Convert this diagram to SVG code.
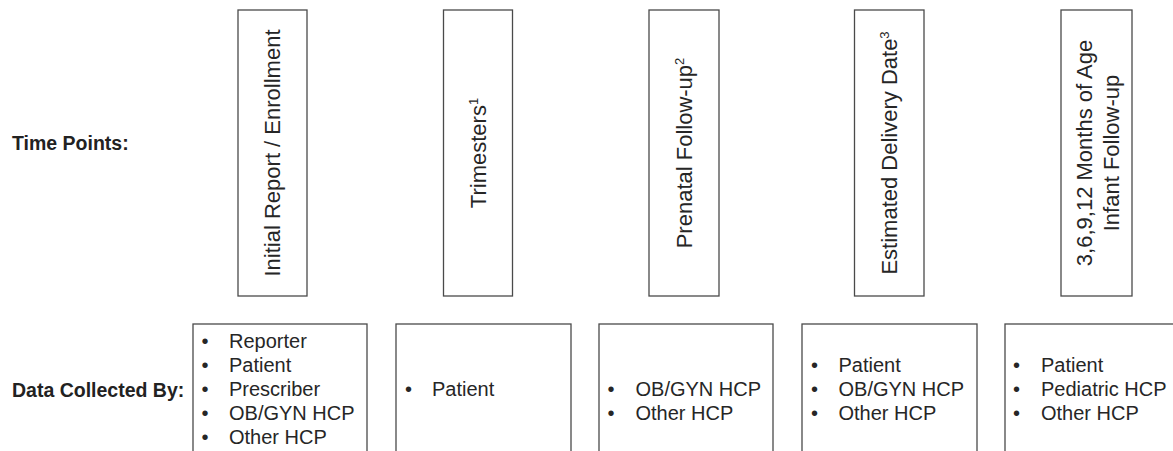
<svg xmlns="http://www.w3.org/2000/svg" width="1173" height="451" viewBox="0 0 1173 451">
<style>
.box{fill:#fff;stroke:#4a4a4a;stroke-width:1.3}
.lbl{font-family:"Liberation Sans",Arial,sans-serif;font-weight:bold;font-size:19.5px;fill:#222}
.vt{font-family:"Liberation Sans",Arial,sans-serif;font-size:22px;fill:#262626;text-anchor:middle}
.li{font-family:"Liberation Sans",Arial,sans-serif;font-size:20px;fill:#262626}
.sup{font-size:13px}
</style>
<rect width="1173" height="451" fill="#fff"/>
<text class="lbl" x="12" y="150">Time Points:</text>
<text class="lbl" x="12" y="397">Data Collected By:</text>
<g id="tp1"><rect class="box" x="238" y="10" width="69" height="286"/><text class="vt" transform="translate(280,153) rotate(-90)">Initial Report / Enrollment</text></g>
<g id="tp2"><rect class="box" x="443.5" y="10" width="69" height="286"/><text class="vt" transform="translate(486,153) rotate(-90)">Trimesters<tspan class="sup" dy="-8">1</tspan></text></g>
<g id="tp3"><rect class="box" x="649" y="10" width="70" height="286"/><text class="vt" transform="translate(692,153) rotate(-90)">Prenatal Follow-up<tspan class="sup" dy="-8">2</tspan></text></g>
<g id="tp4"><rect class="box" x="854.5" y="10" width="69.5" height="286"/><text class="vt" transform="translate(897,153) rotate(-90)">Estimated Delivery Date<tspan class="sup" dy="-8">3</tspan></text></g>
<g id="tp5"><rect class="box" x="1061" y="10" width="71" height="286"/><text class="vt" transform="translate(1092,153) rotate(-90)">3,6,9,12 Months of Age</text><text class="vt" transform="translate(1118.5,153) rotate(-90)">Infant Follow-up</text></g>
<g id="dc1"><rect class="box" x="193" y="324" width="174" height="200"/>
<text class="li" x="201.5" y="348">•</text><text class="li" x="229" y="348">Reporter</text>
<text class="li" x="201.5" y="372">•</text><text class="li" x="229" y="372">Patient</text>
<text class="li" x="201.5" y="396">•</text><text class="li" x="229" y="396">Prescriber</text>
<text class="li" x="201.5" y="420">•</text><text class="li" x="229" y="420">OB/GYN HCP</text>
<text class="li" x="201.5" y="444">•</text><text class="li" x="229" y="444">Other HCP</text></g>
<g id="dc2"><rect class="box" x="396" y="324" width="175" height="200"/>
<text class="li" x="405" y="396">•</text><text class="li" x="432" y="396">Patient</text></g>
<g id="dc3"><rect class="box" x="599" y="324" width="174" height="200"/>
<text class="li" x="607.5" y="396">•</text><text class="li" x="635.5" y="396">OB/GYN HCP</text>
<text class="li" x="607.5" y="420">•</text><text class="li" x="635.5" y="420">Other HCP</text></g>
<g id="dc4"><rect class="box" x="802" y="324" width="175" height="200"/>
<text class="li" x="811" y="372">•</text><text class="li" x="838.5" y="372">Patient</text>
<text class="li" x="811" y="396">•</text><text class="li" x="838.5" y="396">OB/GYN HCP</text>
<text class="li" x="811" y="420">•</text><text class="li" x="838.5" y="420">Other HCP</text></g>
<g id="dc5"><rect class="box" x="1005" y="324" width="200" height="200"/>
<text class="li" x="1013" y="372">•</text><text class="li" x="1041" y="372">Patient</text>
<text class="li" x="1013" y="396">•</text><text class="li" x="1041" y="396">Pediatric HCP</text>
<text class="li" x="1013" y="420">•</text><text class="li" x="1041" y="420">Other HCP</text></g>
<g id="connectors"></g>
</svg>
